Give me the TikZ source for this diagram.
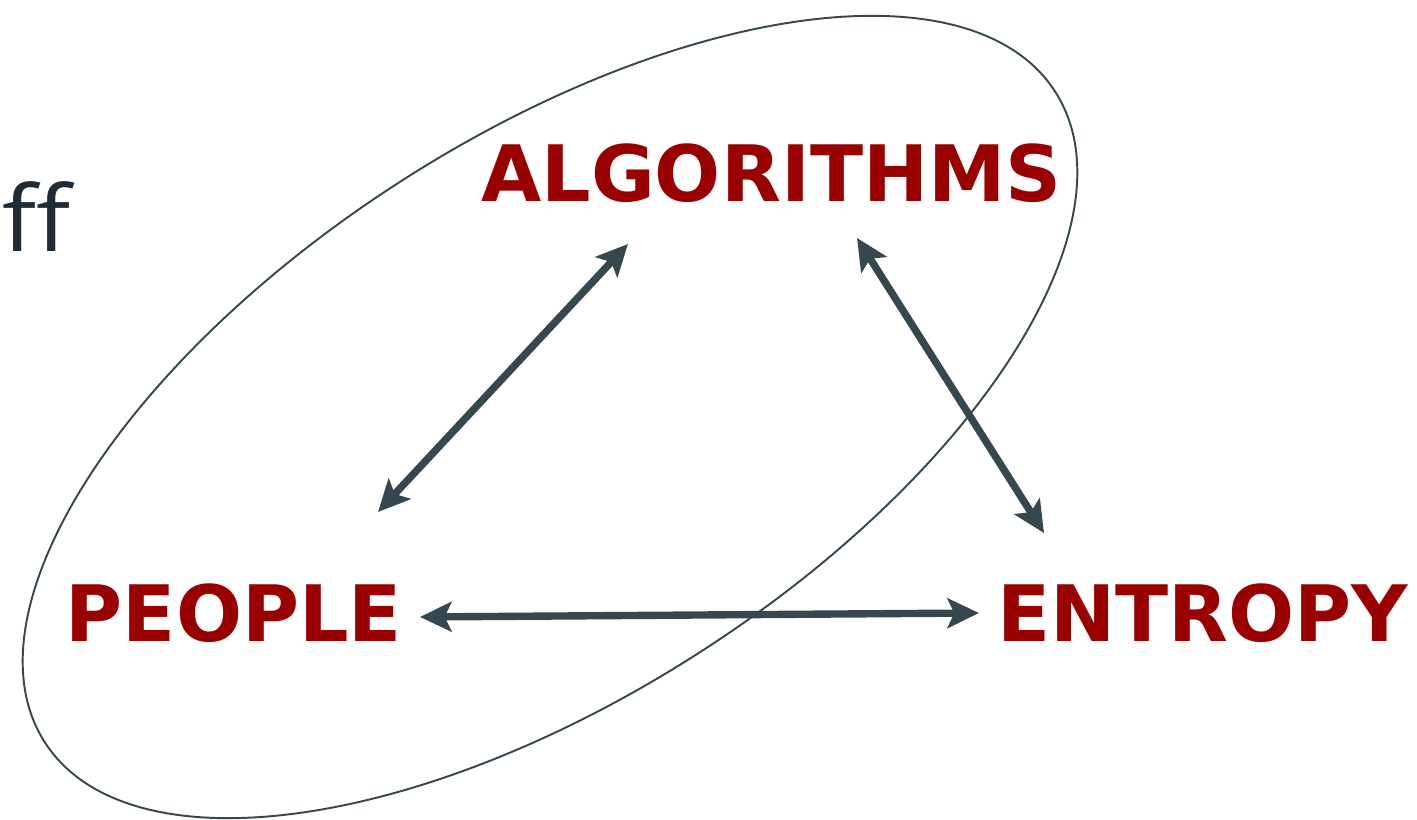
\documentclass[tikz,border=0pt]{standalone}
\usepackage{fontspec}
\usetikzlibrary{arrows.meta}
\newfontfamily\labfont{DejaVu Sans}
\newfontfamily\fffont{Open Sans}
\definecolor{labred}{HTML}{990000}
\definecolor{slate}{HTML}{37474F}
\definecolor{ink}{HTML}{1F2B36}
\tikzset{
  lab/.style={font=\labfont\bfseries\fontsize{44.3}{48}\selectfont, text=labred, inner sep=0pt, anchor=base},
  link/.style={draw=slate, line width=4.2pt, {Stealth[length=18pt,width=17pt,inset=4pt]}-{Stealth[length=18pt,width=17pt,inset=4pt]}},
  ring/.style={draw=slate, line width=1.1pt}
}
\begin{document}
\begin{tikzpicture}[x=0.02cm,y=0.02cm]
\useasboundingbox (0,0) rectangle (1417,819);
\coordinate (ringc) at (550,402);
\draw[ring, rotate around={32.8:(ringc)}] (ringc) ellipse [x radius=12.02cm, y radius=5.58cm];
\node[anchor=base west, inner sep=0pt, text=ink, xscale=1.1, transform shape, font=\fffont\fontsize{52}{56}\selectfont] (ff) at (2,567) {ff};
\node[lab] (alg) at (771.5,617) {ALGORITHMS};
\node[lab] (peo) at (234,178) {PEOPLE};
\node[lab] (ent) at (1202.5,178) {ENTROPY};
\coordinate (a1) at (628,575);
\coordinate (p1) at (378,307);
\coordinate (a2) at (857,581);
\coordinate (e2) at (1044,286);
\coordinate (p3) at (420,202);
\coordinate (e3) at (979,206);
\draw[link] (a1) -- (p1);
\draw[link] (a2) -- (e2);
\draw[link] (p3) -- (e3);
\end{tikzpicture}
\end{document}
